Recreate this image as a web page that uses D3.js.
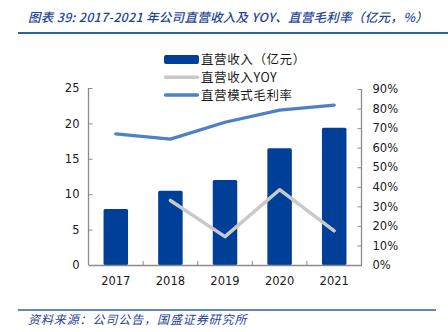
<!DOCTYPE html>
<html>
<head>
<meta charset="utf-8">
<script src="https://cdn.jsdelivr.net/npm/d3@7"></script>
<style>
  html, body { margin: 0; padding: 0; background: #fff; }
  svg { display: block; }
</style>
</head>
<body>
<svg id="chart" width="448" height="332"></svg>
<script>
// Direct-sales revenue (100M yuan), its YoY growth and gross margin (%)
const years = ["2017", "2018", "2019", "2020", "2021"];
const revenue = [7.9, 10.5, 12.0, 16.5, 19.4];
const yoyYears = ["2018", "2019", "2020", "2021"];
const yoy = [33.0, 14.5, 38.5, 17.5];
const margin = [67.0, 64.4, 73.0, 79.2, 81.8];
const leftTicks = [0, 5, 10, 15, 20, 25];
const rightTicks = [0, 10, 20, 30, 40, 50, 60, 70, 80, 90];
const legendLabels = ["直营收入（亿元）", "直营收入YOY", "直营模式毛利率"];

const titleText = "图表 39:  2017-2021 年公司直营收入及 YOY、直营毛利率（亿元，%）";
const sourceText = "资料来源：公司公告，国盛证券研究所";

const svg = d3.select("#chart");
const numFont = "'DejaVu Sans', sans-serif";
const cjkFont = "'Noto Sans CJK SC', sans-serif";

const plot = { left: 88.5, right: 361.5, top: 88, bottom: 265 };

const x = d3.scaleBand().domain(years).range([plot.left, plot.right]).paddingInner(0).paddingOuter(0);
const yL = d3.scaleLinear().domain([0, 25]).range([plot.bottom, plot.top]);
const yR = d3.scaleLinear().domain([0, 90]).range([plot.bottom, 89]);

const barColor = "#003f98";
const yoyColor = "#c9c9c9";
const marginColor = "#4c80c8";
const axisColor = "#8c8c8c";
const headColor = "#1f4596";

// Header and title rule
svg.append("text")
  .attr("x", 28).attr("y", 22)
  .attr("font-family", cjkFont).attr("font-size", 12.5)
  .attr("font-style", "italic").attr("font-weight", 500)
  .attr("letter-spacing", 0.3)
  .attr("fill", headColor)
  .text(titleText);
svg.append("line")
  .attr("x1", 18).attr("x2", 448).attr("y1", 33).attr("y2", 33)
  .attr("stroke", "#2b5fad").attr("stroke-width", 2);

// Bars
svg.append("g").selectAll("rect")
  .data(years)
  .join("rect")
  .attr("x", d => x(d) + x.bandwidth() / 2 - 12.25)
  .attr("width", 24.5)
  .attr("y", (d, i) => yL(revenue[i]))
  .attr("height", (d, i) => plot.bottom - yL(revenue[i]))
  .attr("rx", 1.5)
  .attr("fill", barColor);

// Axes
const leftAxis = d3.axisLeft(yL).tickValues(leftTicks).tickSizeInner(-4).tickSizeOuter(0).tickPadding(9);
const gL = svg.append("g").attr("transform", `translate(${plot.left},0)`).call(leftAxis);
const rightAxis = d3.axisRight(yR).tickValues(rightTicks).tickSizeInner(-4).tickSizeOuter(0)
  .tickPadding(11).tickFormat(d => d + "%");
const gR = svg.append("g").attr("transform", `translate(${plot.right},0)`).call(rightAxis);
const bottomAxis = d3.axisBottom(x).tickSize(0).tickPadding(12);
const gB = svg.append("g").attr("transform", `translate(0,${plot.bottom})`).call(bottomAxis);

[gL, gR, gB].forEach(g => {
  g.select(".domain").attr("stroke", axisColor).attr("stroke-width", 1.3);
  g.selectAll(".tick line").attr("stroke", axisColor);
  g.selectAll("text").attr("font-family", numFont).attr("font-size", 11.5).attr("fill", "#1a1a1a");
});
// Axis lines span the full plot height
gR.select(".domain").attr("d", `M0,${plot.bottom}V${yR(90)}`);
gL.select(".domain").attr("d", `M0,${plot.bottom}V${yL(25)}`);

// Category separators on the x axis (inside)
svg.append("g").selectAll("line")
  .data(years.slice(1))
  .join("line")
  .attr("x1", d => x(d)).attr("x2", d => x(d))
  .attr("y1", plot.bottom).attr("y2", plot.bottom - 4)
  .attr("stroke", axisColor);

// YoY line
const lineGen = d3.line().x(d => x(d[0]) + x.bandwidth() / 2).y(d => yR(d[1]));
svg.append("path")
  .datum(yoyYears.map((d, i) => [d, yoy[i]]))
  .attr("d", lineGen)
  .attr("fill", "none").attr("stroke", yoyColor).attr("stroke-width", 3.5)
  .attr("stroke-linejoin", "round").attr("stroke-linecap", "round");

// Gross margin line
svg.append("path")
  .datum(years.map((d, i) => [d, margin[i]]))
  .attr("d", lineGen)
  .attr("fill", "none").attr("stroke", marginColor).attr("stroke-width", 3.3)
  .attr("stroke-linejoin", "round").attr("stroke-linecap", "round");

// Legend
const legend = svg.append("g");
const rows = [59.5, 77.3, 95];
legend.append("rect").attr("x", 164).attr("y", 55).attr("width", 35).attr("height", 9)
  .attr("rx", 2).attr("fill", barColor);
legend.append("line").attr("x1", 165.5).attr("x2", 197.5).attr("y1", rows[1]).attr("y2", rows[1])
  .attr("stroke", yoyColor).attr("stroke-width", 3.5).attr("stroke-linecap", "round");
legend.append("line").attr("x1", 165.5).attr("x2", 197.5).attr("y1", rows[2]).attr("y2", rows[2])
  .attr("stroke", marginColor).attr("stroke-width", 3.3).attr("stroke-linecap", "round");
legend.selectAll("text.lg")
  .data(legendLabels)
  .join("text")
  .attr("class", "lg")
  .attr("x", 201).attr("y", (d, i) => rows[i])
  .attr("dy", "0.36em")
  .attr("font-family", cjkFont).attr("font-size", 12.5)
  .attr("letter-spacing", 0.6)
  .attr("fill", "#1a1a1a")
  .text(d => d);

// Source rule and note
svg.append("line")
  .attr("x1", 18).attr("x2", 436).attr("y1", 310).attr("y2", 310)
  .attr("stroke", "#2b5fad").attr("stroke-width", 1.5);
svg.append("text")
  .attr("x", 28).attr("y", 324)
  .attr("font-family", cjkFont).attr("font-size", 12)
  .attr("font-style", "italic")
  .attr("letter-spacing", 0.9)
  .attr("fill", headColor)
  .text(sourceText);
</script>
</body>
</html>
